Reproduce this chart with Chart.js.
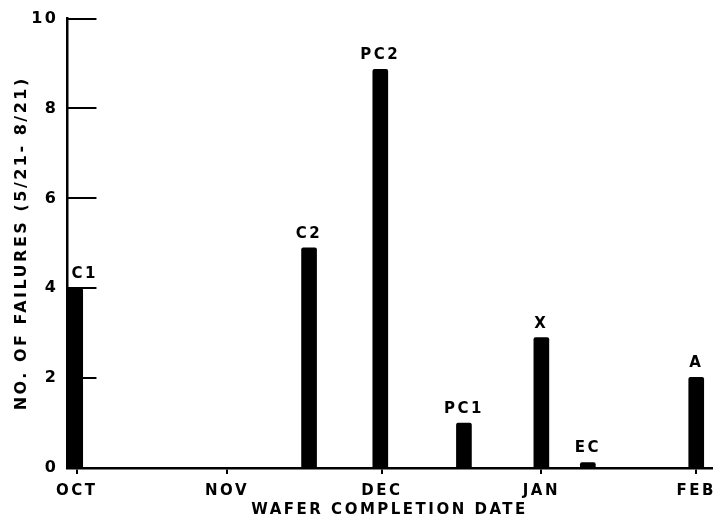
<!DOCTYPE html>
<html lang="en">
<head>
    <meta charset="UTF-8">
    <title>Failures by Wafer Completion Date</title>
    <script src="https://cdn.jsdelivr.net/npm/chart.js"></script>
    <style>
        body {
            margin: 0;
            background-color: white;
        }
        .chart-container {
            width: 724px;
            height: 523px;
        }
    </style>
</head>
<body>
    <div class="chart-container">
        <canvas id="failChart"></canvas>
    </div>

    <script>
        // lot labels, position in months after OCT, and failure counts
        const lotNames = ['C1', 'C2', 'PC2', 'PC1', 'X', 'EC', 'A'];
        const lotMonths = [-0.01, 1.5, 1.96, 2.5, 3.0, 3.3, 4.0];
        const failures = [4, 4.9, 8.87, 1.0, 2.9, 0.12, 2.02];

        // x axis month ticks
        const monthNames = ['OCT', 'NOV', 'DEC', 'JAN', 'FEB'];
        const monthTicks = [0, 0.97, 1.97, 3, 4];

        const yTicks = [0, 2, 4, 6, 8, 10];

        const FONT = 'DejaVu Sans';
        const SPACING = '2.5px';

        // letter spacing for all canvas text
        const spacingPlugin = {
            id: 'spacing',
            beforeLayout(chart) { chart.ctx.letterSpacing = SPACING; },
            beforeDraw(chart) { chart.ctx.letterSpacing = SPACING; }
        };

        // short inward ticks on the y axis and the lot names over the bars
        const markPlugin = {
            id: 'marks',
            afterDraw(chart) {
                const ctx = chart.ctx;
                const area = chart.chartArea;
                const y = chart.scales.y;
                ctx.save();
                ctx.strokeStyle = '#000';
                ctx.lineWidth = 2;
                y.ticks.forEach(t => {
                    if (t.value === 0) return;
                    const py = Math.round(y.getPixelForValue(t.value));
                    ctx.beginPath();
                    ctx.moveTo(area.left, py);
                    ctx.lineTo(area.left + 29, py);
                    ctx.stroke();
                });

                ctx.letterSpacing = SPACING;
                ctx.font = 'bold 15px "' + FONT + '"';
                ctx.fillStyle = '#000';
                ctx.textAlign = 'center';
                ctx.textBaseline = 'middle';
                chart.getDatasetMeta(0).data.forEach((bar, i) => {
                    const text = lotNames[i];
                    let cx = bar.x;
                    const w = ctx.measureText(text).width;
                    if (cx - w / 2 < area.left + 4) cx = area.left + 4 + w / 2;
                    ctx.fillText(text, cx, bar.y - 14);
                });
                ctx.restore();
            }
        };

        const ctx = document.getElementById('failChart').getContext('2d');
        new Chart(ctx, {
            type: 'bar',
            data: {
                datasets: [{
                    data: lotMonths.map((m, i) => ({ x: m, y: failures[i] })),
                    backgroundColor: '#000',
                    barThickness: 15,
                    borderRadius: { topLeft: 2, topRight: 2 },
                    borderSkipped: 'bottom'
                }]
            },
            options: {
                responsive: true,
                maintainAspectRatio: false,
                animation: false,
                layout: {
                    padding: { top: 7, right: 2, bottom: 4, left: 12 }
                },
                plugins: {
                    legend: { display: false },
                    tooltip: { enabled: false }
                },
                scales: {
                    x: {
                        type: 'linear',
                        offset: false,
                        min: -0.06,
                        max: 4.1,
                        afterBuildTicks: scale => {
                            scale.ticks = monthTicks.map(v => ({ value: v }));
                        },
                        ticks: {
                            autoSkip: false,
                            maxRotation: 0,
                            padding: 8,
                            color: '#000',
                            font: { family: FONT, size: 15, weight: 'bold' },
                            callback: (v, i) => monthNames[i]
                        },
                        grid: {
                            offset: false,
                            drawOnChartArea: false,
                            drawTicks: true,
                            tickLength: 6,
                            color: '#000',
                            lineWidth: 2
                        },
                        border: { color: '#000', width: 2.5 },
                        title: {
                            display: true,
                            text: 'WAFER COMPLETION DATE',
                            color: '#000',
                            font: { family: FONT, size: 15, weight: 'bold' },
                            padding: { top: -7, bottom: 0 }
                        }
                    },
                    y: {
                        min: 0,
                        max: 10,
                        afterBuildTicks: scale => {
                            scale.ticks = yTicks.map(v => ({ value: v }));
                        },
                        ticks: {
                            padding: 9,
                            color: '#000',
                            font: { family: FONT, size: 16, weight: 'bold' }
                        },
                        grid: { display: false, drawTicks: false },
                        border: { color: '#000', width: 2.5 },
                        title: {
                            display: true,
                            text: 'NO. OF FAILURES (5/21- 8/21)',
                            color: '#000',
                            font: { family: FONT, size: 16, weight: 'bold' },
                            padding: { top: 0, bottom: -9 }
                        }
                    }
                }
            },
            plugins: [spacingPlugin, markPlugin]
        });
    </script>
</body>
</html>
